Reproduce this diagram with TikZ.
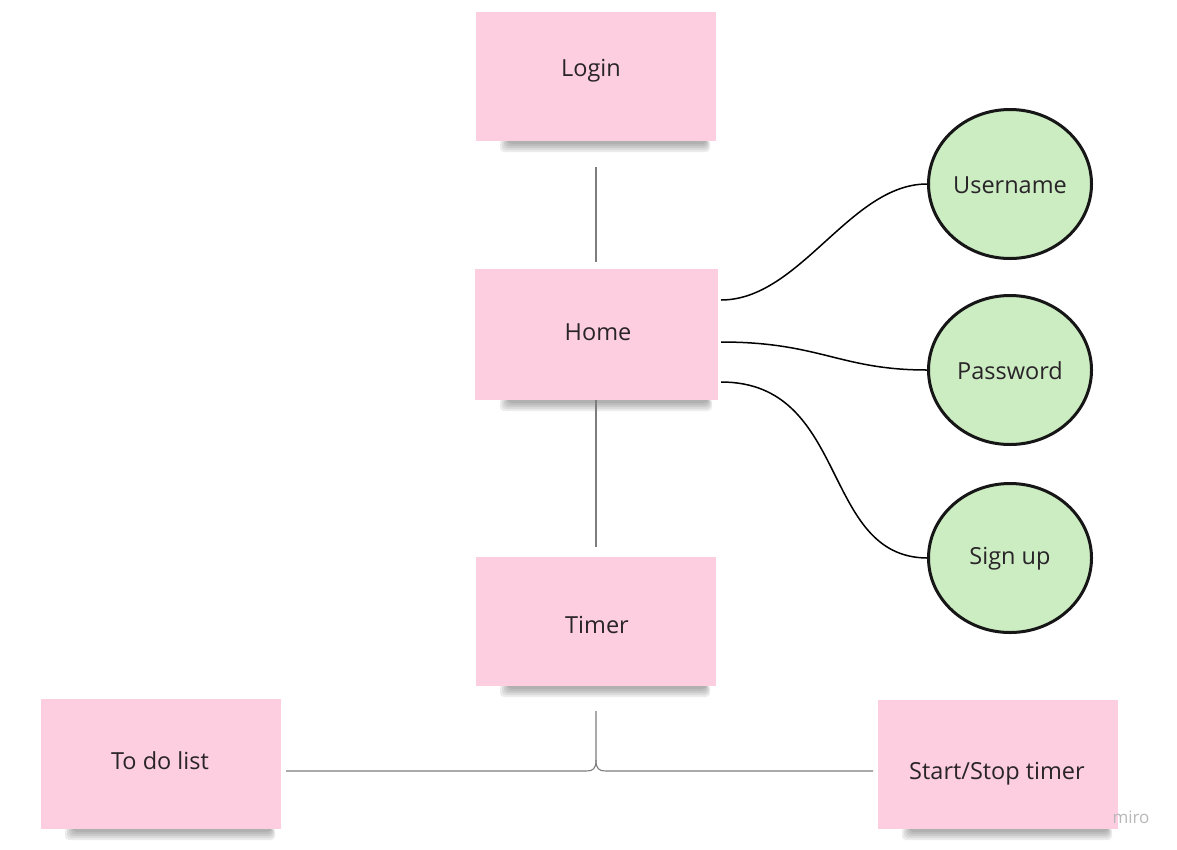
\documentclass[tikz,border=0pt]{standalone}
\usepackage{fontspec}
\setmainfont{Open Sans}
\usetikzlibrary{shapes.geometric}
\begin{document}
\begin{tikzpicture}[x=1pt,y=-1pt,
  every node/.style={font=\fontsize{23.5}{28}\selectfont, text=textdark},
  sticky/.style={draw=none, fill=stickypink, minimum width=240pt, minimum height=129pt, inner sep=0pt},
  bubble/.style={ellipse, draw=circleedge, line width=3pt, fill=bubblegreen, minimum width=163pt, minimum height=149pt, inner sep=0pt},
  curvelink/.style={line width=1.5pt, black},
  greylink/.style={line width=1.1pt, linkgrey},
]
\definecolor{stickypink}{RGB}{253,206,224}
\definecolor{bubblegreen}{RGB}{204,236,194}
\definecolor{circleedge}{RGB}{22,22,22}
\definecolor{textdark}{RGB}{40,36,40}
\definecolor{linkgrey}{RGB}{125,125,125}
\definecolor{shadowgrey}{RGB}{50,50,50}
\useasboundingbox (0,0) rectangle (1177,849);
\fill[white] (0,0) rectangle (1177,849);

% shadows
\foreach \xa/\xb/\yb in {500/710/141, 500/712/400, 500/710/686, 65/275/829, 902/1112/829}{
  \foreach \k in {0,1,2,3,4}{
    \fill[shadowgrey, opacity=0.09, rounded corners=4pt] (\xa+\k*2, \yb-2) rectangle (\xb-\k, \yb+11-\k*2);
  }
}

% sticky notes
\node[sticky] (login) at (596,76.5) {};
\node at (591,71) {Login};
\node[sticky, minimum width=243pt, minimum height=131pt] (home) at (596.5,334.5) {};
\node at (598,332.5) {Home};
\node[sticky] (timer) at (596,621.5) {};
\node at (597,624.5) {Timer};
\node[sticky, minimum height=130pt] (todo) at (161,764) {};
\node at (160,760.5) {To do list};
\node[sticky] (startstop) at (998,764.5) {};
\node at (997,773.5) {Start/Stop timer};

% bubbles
\node[bubble] (username) at (1010,184) {};
\node at (1010,185) {Username};
\node[bubble] (password) at (1010,370) {};
\node at (1010,371) {Password};
\node[bubble] (signup) at (1010,558) {};
\node at (1010,558.5) {Sign up};

% grey connectors
\coordinate (loginout) at (596,167);
\coordinate (homein) at (596,262);
\draw[greylink] (loginout) -- (homein);
\coordinate (timerin) at (596,547);
\draw[greylink] (home.south -| timerin) -- (timerin);
\coordinate (timerout) at (596,711);
\coordinate (todoend) at (286,771);
\coordinate (ssend) at (873,771);
\draw[greylink] (timerout) -- (596,760) .. controls (596,769) and (593,771) .. (586,771) -- (todoend);
\draw[greylink] (596,760) .. controls (596,769) and (599,771) .. (606,771) -- (ssend);

% curved connectors
\coordinate (h1) at (721,300);
\coordinate (h2) at (721,342);
\coordinate (h3) at (721,382);
\draw[curvelink] (h1) .. controls (800,300) and (850,184) .. (username.west);
\draw[curvelink] (h2) .. controls (820,342) and (840,370) .. (password.west);
\draw[curvelink] (h3) .. controls (850,382) and (820,557) .. (signup.west);

% watermark
\node[font=\fontsize{17}{20}\selectfont, text=black!28] (miro) at (1131,817) {miro};
\end{tikzpicture}
\end{document}
